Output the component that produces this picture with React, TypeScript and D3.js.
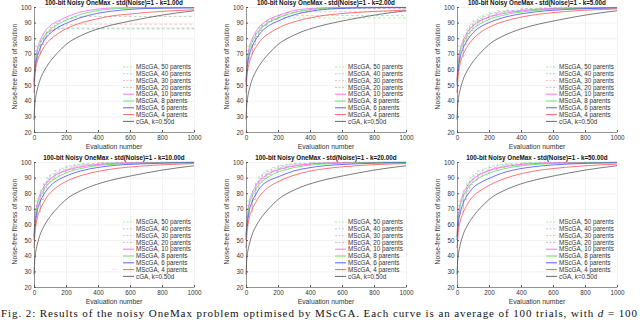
import React, { useEffect, useRef } from 'react';
import * as d3 from 'd3';

const seriesNames = [
  'MScGA, 50 parents', 'MScGA, 40 parents', 'MScGA, 30 parents', 'MScGA, 20 parents',
  'MScGA, 10 parents', 'MScGA, 8 parents', 'MScGA, 6 parents', 'MScGA, 4 parents', 'cGA, k=0.50d',
];
const seriesColors = ['#8fe88f', '#b4b4ee', '#f4b0b0', '#b4b4b4', '#ff4dff', '#44dd44', '#3333ff', '#ff3b3b', '#444444'];

const kLabels = ['1.00', '2.00', '5.00', '10.00', '20.00', '50.00'];
const xTicks = [0, 200, 400, 600, 800, 1000];
const yTicks = [20, 30, 40, 50, 60, 70, 80, 90, 100];

// evaluation numbers where the curves were read
const smoothX = [0, 5, 10, 20, 40, 60, 80, 100, 150, 200, 300, 400, 500, 600, 700, 800, 900, 1000];
const stepX = [0, 20, 40, 60, 80, 100, 130, 160, 200, 250, 300, 400, 500, 600, 800, 1000];

const cgaFitness = [28, 38, 42, 47, 54, 58.5, 62, 65, 71, 76, 82, 86, 88.8, 91, 93, 94.8, 96.3, 97.6];

// k = 1.00d : 50, 40, 30, 20 parents (stepX)
const stepsK1 = [
  [75, 75, 80, 83, 84.5, 85.5, 86, 86, 86, 86, 86, 86, 86, 86, 86, 86],
  [72, 72, 78, 81.5, 83.5, 85, 86, 86.5, 86.5, 86.5, 86.5, 86.5, 86.5, 86.5, 86.5, 86.5],
  [70, 70, 76, 80, 83, 85, 87, 88, 88.7, 89, 89, 89, 89, 89, 89, 89],
  [65, 70, 76, 80.5, 84, 87, 89.5, 91.2, 92.8, 93.6, 94, 94, 94, 94, 94, 94],
];
// 10, 8, 6, 4 parents (smoothX)
const smoothK1 = [
  [53, 62, 67, 73, 79, 83, 86, 88, 91, 93.5, 97, 98.7, 99.4, 99.6, 99.7, 99.7, 99.7, 99.7],
  [52, 60, 65, 71, 77, 80.5, 83.5, 85.5, 89, 91.5, 95.5, 97.8, 98.8, 99.3, 99.5, 99.6, 99.6, 99.6],
  [50, 58, 63, 68, 74, 78, 81, 83, 87, 89.5, 93.5, 96, 97.5, 98.5, 99, 99.2, 99.3, 99.4],
  [45, 55, 60, 65, 70, 74, 77, 79, 83, 86, 90, 92.5, 94.5, 95.5, 96.5, 97.2, 97.8, 98.2],
];

const stepsK2 = [
  [75, 75, 80, 84, 87, 89, 91, 92.2, 93, 93, 93, 93, 93, 93, 93, 93],
  [72, 72, 78, 83, 86, 88.5, 90.5, 92, 93.5, 94.3, 94.5, 94.5, 94.5, 94.5, 94.5, 94.5],
  [70, 70, 76, 81, 85, 88, 90.5, 92.5, 94.5, 96, 96.6, 97, 97, 97, 97, 97],
  [65, 70, 76, 81, 85, 88, 91, 93, 95, 96.5, 97.5, 98.5, 99, 99, 99, 99],
];
const smoothK2 = [
  [53, 62, 67, 74, 80, 84, 87, 89, 92.5, 94.5, 97.8, 99, 99.5, 99.7, 99.8, 99.8, 99.8, 99.8],
  [52, 60, 66, 72, 78, 82, 85, 87, 90.5, 93, 96.5, 98.4, 99.2, 99.5, 99.7, 99.7, 99.7, 99.7],
  [50, 58, 63, 69, 75, 79, 82, 84.5, 88.5, 91, 95, 97.3, 98.5, 99.1, 99.4, 99.5, 99.6, 99.6],
  [45, 54, 59, 64, 70, 74, 77, 79.5, 83.5, 86.5, 90.5, 93, 94.8, 95.8, 96.6, 97.2, 97.6, 98],
];

const stepsK5 = [
  [75, 75, 82, 86, 89, 91.5, 93.5, 95, 96.5, 97.5, 98, 99, 99.3, 99.5, 99.5, 99.5],
  [72, 72, 80, 85, 88, 90.5, 92.5, 94, 95.8, 97, 97.8, 98.8, 99.2, 99.4, 99.6, 99.6],
  [70, 70, 78, 83, 86.5, 89, 91.5, 93.2, 95, 96.5, 97.3, 98.5, 99, 99.3, 99.6, 99.7],
  [65, 68, 76, 81, 85, 88, 90.5, 92.5, 94.5, 96, 97, 98.3, 98.9, 99.3, 99.6, 99.7],
];
const smoothK5 = [
  [53, 62, 67, 73, 79, 83, 86, 88, 91.5, 93.5, 96, 97.5, 98.4, 99, 99.3, 99.5, 99.6, 99.7],
  [52, 60, 65, 71, 77, 81, 84, 86, 89.5, 92, 95, 96.8, 97.9, 98.6, 99, 99.3, 99.5, 99.6],
  [50, 58, 62, 68, 74, 78, 81, 83.5, 87.5, 90, 93.5, 95.6, 97, 97.9, 98.5, 98.9, 99.2, 99.4],
  [45, 53, 58, 64, 70, 74, 77, 79.5, 84, 87, 91, 93.5, 95.2, 96.4, 97.3, 97.9, 98.4, 98.8],
];

const stepsK10 = [
  [75, 75, 82, 87, 90, 92.5, 94.5, 96, 97.5, 98.5, 99, 99.6, 99.8, 99.8, 99.8, 99.8],
  [72, 72, 80, 85.5, 89, 91.5, 93.5, 95, 96.8, 98, 98.7, 99.4, 99.7, 99.8, 99.8, 99.8],
  [70, 70, 78, 84, 87.5, 90, 92.5, 94, 96, 97.4, 98.3, 99.2, 99.6, 99.7, 99.8, 99.8],
  [65, 68, 76, 82, 86, 89, 91.5, 93.3, 95.3, 96.8, 97.8, 98.9, 99.4, 99.6, 99.7, 99.8],
];
const smoothK10 = [
  [53, 62, 67, 73.5, 80, 84, 87, 89, 92.5, 94.5, 97, 98.4, 99.1, 99.4, 99.6, 99.7, 99.7, 99.8],
  [52, 60, 65, 71.5, 78, 82, 85, 87, 90.5, 93, 96, 97.7, 98.6, 99.1, 99.4, 99.5, 99.6, 99.7],
  [50, 58, 62, 68.5, 75, 79, 82, 84.5, 88.5, 91, 94.5, 96.5, 97.8, 98.5, 98.9, 99.2, 99.4, 99.5],
  [45, 53, 58, 64, 70, 74, 77.5, 80, 84.5, 87.5, 91.5, 94, 95.7, 96.8, 97.6, 98.2, 98.6, 99],
];

const stepsK20 = [
  [75, 75, 82, 87.5, 90.5, 93, 95, 96.5, 97.8, 98.7, 99.2, 99.7, 99.8, 99.8, 99.8, 99.8],
  [72, 72, 80, 86, 89.5, 92, 94, 95.5, 97.2, 98.3, 98.9, 99.5, 99.7, 99.8, 99.8, 99.8],
  [70, 70, 78, 84, 88, 90.5, 93, 94.6, 96.4, 97.7, 98.5, 99.3, 99.6, 99.7, 99.8, 99.8],
  [65, 68, 76, 82, 86.5, 89.5, 92, 93.8, 95.8, 97.2, 98.1, 99, 99.4, 99.6, 99.7, 99.8],
];
const smoothK20 = [
  [53, 62, 67, 74, 80.5, 84.5, 87.5, 89.5, 93, 95, 97.4, 98.7, 99.3, 99.5, 99.7, 99.7, 99.8, 99.8],
  [52, 60, 65, 72, 78.5, 82.5, 85.5, 87.5, 91, 93.5, 96.4, 98, 98.8, 99.2, 99.5, 99.6, 99.7, 99.7],
  [50, 58, 62, 68.5, 75, 79, 82.5, 85, 88.5, 90.5, 94.3, 96.4, 97.7, 98.4, 98.9, 99.2, 99.4, 99.5],
  [45, 53, 58, 64, 70, 74, 77.5, 80, 84.5, 87.4, 91.5, 94.2, 95.8, 96.9, 97.7, 98.3, 98.7, 99],
];

const stepsK50 = [
  [75, 75, 82, 87, 90, 92.5, 94.5, 96, 97.5, 98.5, 99, 99.6, 99.8, 99.8, 99.8, 99.8],
  [72, 72, 80, 85, 88.5, 91, 93, 94.8, 96.5, 97.8, 98.5, 99.3, 99.6, 99.7, 99.8, 99.8],
  [70, 70, 78, 83.5, 87, 89.5, 92, 93.8, 95.7, 97.1, 98, 99, 99.4, 99.6, 99.7, 99.8],
  [65, 68, 76, 81.5, 85.5, 88.5, 91, 93, 95, 96.5, 97.5, 98.7, 99.2, 99.5, 99.7, 99.8],
];
const smoothK50 = [
  [53, 62, 67, 73.5, 80, 84, 87, 89, 92.5, 94.5, 97, 98.4, 99.1, 99.4, 99.6, 99.7, 99.7, 99.8],
  [52, 60, 65, 71.5, 78, 82, 85, 87, 90.5, 92.8, 95.8, 97.5, 98.5, 99, 99.3, 99.5, 99.6, 99.7],
  [50, 57, 62, 67.5, 74, 78, 81, 83.5, 87, 89.5, 93.5, 95.8, 97.2, 98.1, 98.7, 99.1, 99.3, 99.5],
  [45, 52, 57, 62, 68, 72, 75.5, 78, 82, 85, 89.5, 92.5, 94.5, 95.8, 96.8, 97.6, 98.2, 98.6],
];

const panelSteps = [stepsK1, stepsK2, stepsK5, stepsK10, stepsK20, stepsK50];
const panelSmooth = [smoothK1, smoothK2, smoothK5, smoothK10, smoothK20, smoothK50];

const panelLeft = [34, 246, 457];
const panelTop = [7, 162];
const plotW = 160;
const plotH = 125;
const sans = 'Liberation Sans, Arial, sans-serif';

function App() {
  const ref = useRef<SVGSVGElement>(null);

  useEffect(() => {
    const svg = d3.select(ref.current);
    svg.selectAll('*').remove();

    const x = d3.scaleLinear().domain([0, 1000]).range([0, plotW]);
    const y = d3.scaleLinear().domain([20, 100]).range([plotH, 0]);

    kLabels.forEach((k, i) => {
      const g = svg.append('g')
        .attr('transform', `translate(${panelLeft[i % 3]}, ${panelTop[Math.floor(i / 3)]})`);

      // grid
      g.append('g')
        .attr('transform', `translate(0, ${plotH})`)
        .call(d3.axisBottom(x).tickValues(xTicks).tickSize(-plotH).tickFormat(() => ''))
        .call(s => s.select('.domain').remove())
        .call(s => s.selectAll('line').attr('stroke', '#e4e4e4').attr('stroke-width', 0.5));
      g.append('g')
        .call(d3.axisLeft(y).tickValues(yTicks).tickSize(-plotW).tickFormat(() => ''))
        .call(s => s.select('.domain').remove())
        .call(s => s.selectAll('line').attr('stroke', '#e4e4e4').attr('stroke-width', 0.5));

      // curves
      const stepLine = d3.line<number>()
        .x((_, j) => x(stepX[j]))
        .y(d => y(d))
        .curve(d3.curveStepAfter);
      const smoothLine = d3.line<number>()
        .x((_, j) => x(smoothX[j]))
        .y(d => y(d))
        .curve(d3.curveMonotoneX);

      panelSteps[i].forEach((vals, s) => {
        g.append('path')
          .attr('d', stepLine(vals))
          .attr('fill', 'none')
          .attr('stroke', seriesColors[s])
          .attr('stroke-width', 0.7)
          .attr('stroke-dasharray', '3,2');
      });
      [...panelSmooth[i], cgaFitness].forEach((vals, s) => {
        g.append('path')
          .attr('d', smoothLine(vals))
          .attr('fill', 'none')
          .attr('stroke', seriesColors[s + 4])
          .attr('stroke-width', 0.7);
      });

      // axes
      g.append('g')
        .attr('transform', `translate(0, ${plotH})`)
        .call(d3.axisBottom(x).tickValues(xTicks).tickFormat(d3.format('d')).tickSizeInner(-2).tickSizeOuter(0).tickPadding(3.5))
        .call(s => s.select('.domain').attr('stroke', '#555').attr('stroke-width', 0.6))
        .call(s => s.selectAll('line').attr('stroke', '#555'))
        .call(s => s.selectAll('text').attr('fill', '#333').attr('font-size', 6.3).attr('font-family', sans));
      g.append('g')
        .call(d3.axisLeft(y).tickValues(yTicks).tickFormat(d3.format('d')).tickSizeInner(-2).tickSizeOuter(0).tickPadding(2.5))
        .call(s => s.select('.domain').attr('stroke', '#555').attr('stroke-width', 0.6))
        .call(s => s.selectAll('line').attr('stroke', '#555'))
        .call(s => s.selectAll('text').attr('fill', '#333').attr('font-size', 6.3).attr('font-family', sans));

      // labels
      g.append('text')
        .attr('x', plotW / 2)
        .attr('y', -2)
        .attr('text-anchor', 'middle')
        .attr('font-family', sans)
        .attr('font-size', 6.3)
        .attr('font-weight', 'bold')
        .attr('fill', '#111')
        .text(`100-bit Noisy OneMax - std(Noise)=1 - k=${k}d`);
      g.append('text')
        .attr('x', plotW / 2)
        .attr('y', plotH + 17)
        .attr('text-anchor', 'middle')
        .attr('font-family', sans)
        .attr('font-size', 6.8)
        .attr('fill', '#333')
        .text('Evaluation number');
      g.append('text')
        .attr('transform', `translate(-17, ${plotH / 2 - 3}) rotate(-90)`)
        .attr('text-anchor', 'middle')
        .attr('font-family', sans)
        .attr('font-size', 6.8)
        .attr('fill', '#333')
        .text('Noise-free fitness of solution');

      // legend
      const legend = g.append('g').attr('transform', `translate(${plotW - 71}, 60)`);
      const item = legend.selectAll('g')
        .data(seriesNames)
        .join('g')
        .attr('transform', (_, j) => `translate(0, ${j * 6.8})`);
      item.append('line')
        .attr('x1', 0)
        .attr('x2', 11)
        .attr('stroke', (_, j) => seriesColors[j])
        .attr('stroke-width', 0.8)
        .attr('stroke-dasharray', (_, j) => (j < 4 ? '2,1.5' : null));
      item.append('text')
        .attr('x', 13)
        .attr('dy', '0.35em')
        .attr('font-family', sans)
        .attr('font-size', 6.3)
        .attr('fill', '#333')
        .text(d => d);
    });

    // caption
    const cap = svg.append('text')
      .attr('x', 1)
      .attr('y', 317)
      .attr('font-family', 'Liberation Serif, Times New Roman, serif')
      .attr('font-size', 11)
      .attr('fill', '#111')
      .attr('textLength', 636)
      .attr('lengthAdjust', 'spacing');
    cap.append('tspan').text('Fig. 2: Results of the noisy OneMax problem optimised by MScGA. Each curve is an average of 100 trials, with ');
    cap.append('tspan').attr('font-style', 'italic').text('d');
    cap.append('tspan').text(' = 100');
  }, []);

  return (
    <svg
      ref={ref}
      width={640}
      height={320}
      style={{ position: 'absolute', left: 0, top: 0, background: '#fff' }}
    />
  );
}

export default App;
